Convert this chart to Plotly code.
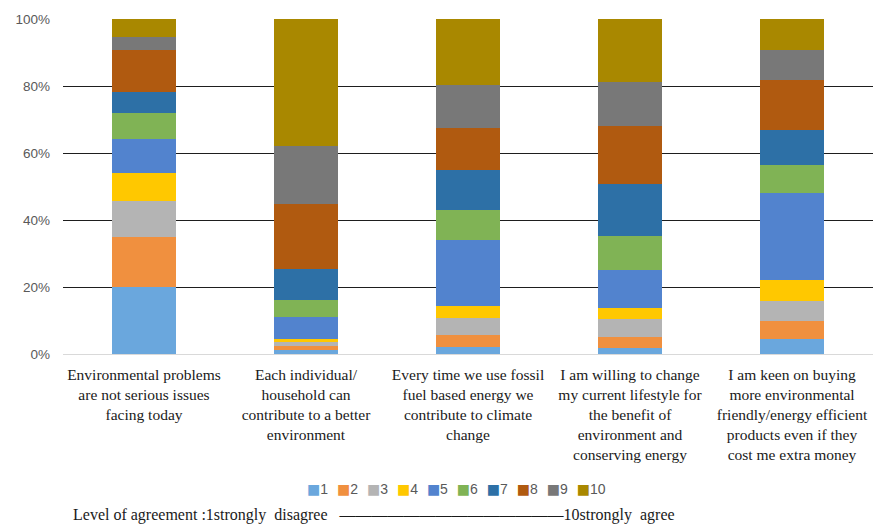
import plotly.graph_objects as go

categories = [
    "Environmental problems<br>are not serious issues<br>facing today",
    "Each individual/<br>household can<br>contribute to a better<br>environment",
    "Every time we use fossil<br>fuel based energy we<br>contribute to climate<br>change",
    "I am willing to change<br>my current lifestyle for<br>the benefit of<br>environment and<br>conserving energy",
    "I am keen on buying<br>more environmental<br>friendly/energy efficient<br>products even if they<br>cost me extra money",
]

levels = ["1", "2", "3", "4", "5", "6", "7", "8", "9", "10"]

# percentage share of each agreement level, per statement (in category order)
s1 = [20.0, 1.3, 2.1, 1.8, 4.5]
s2 = [15.0, 1.0, 3.7, 3.3, 5.3]
s3 = [10.7, 1.4, 4.9, 5.3, 5.9]
s4 = [8.4, 0.7, 3.7, 3.3, 6.5]
s5 = [10.0, 6.6, 19.7, 11.5, 25.9]
s6 = [7.9, 5.0, 9.0, 10.1, 8.4]
s7 = [6.3, 9.4, 11.7, 15.4, 10.3]
s8 = [12.5, 19.5, 12.7, 17.5, 15.1]
s9 = [3.7, 17.3, 12.9, 12.9, 8.9]
s10 = [5.5, 37.8, 19.6, 18.9, 9.2]
series = [s1, s2, s3, s4, s5, s6, s7, s8, s9, s10]

colors = ["#6AA7DD", "#F0903F", "#B4B4B4", "#FFC800", "#5283CE",
          "#80B355", "#2D70A6", "#B05A10", "#787878", "#A98800"]

y_ticks = [0, 20, 40, 60, 80, 100]
y_tick_labels = ["0%", "20%", "40%", "60%", "80%", "100%"]
footer = ("Level of agreement :1strongly&nbsp; disagree&nbsp;&nbsp; " + "\u2014" * 14
          + "10strongly&nbsp; agree")

SERIF = "Liberation Serif, Times New Roman, serif"
SANS = "Liberation Sans, Arial, sans-serif"

fig = go.Figure()
for name, vals, col in zip(levels, series, colors):
    fig.add_trace(go.Bar(x=categories, y=vals, name=name, marker_color=col,
                         marker_line_width=0))

legend_text = "&nbsp;&nbsp;&#8202;".join(
    f"<span style='color:{c};font-family:DejaVu Sans'>\u25A0</span>{n}"
    for n, c in zip(levels, colors)
)

fig.update_layout(
    barmode="stack",
    barnorm="percent",
    bargap=0.6,
    width=873, height=524,
    margin=dict(l=63, r=0, t=19, b=170),
    plot_bgcolor="white", paper_bgcolor="white",
    showlegend=False,
    font=dict(family=SERIF, size=16, color="#1a1a1a"),
)
fig.update_xaxes(
    tickfont=dict(family=SERIF, size=15.5, color="#1a1a1a"),
    showgrid=False, ticks="", showline=False,
    ticklabelstandoff=9,
)
fig.update_yaxes(
    range=[0, 100], tickmode="array", tickvals=y_ticks, ticktext=y_tick_labels,
    tickfont=dict(family=SANS, size=13.5, color="#595959"),
    showgrid=True, gridcolor="#1e1e1e", gridwidth=1,
    zeroline=True, zerolinecolor="#D9D9D9", zerolinewidth=1,
    ticklabelstandoff=12,
)
fig.add_annotation(text=legend_text, xref="paper", yref="paper", x=(456 - 63) / 810,
                   y=-(489.5 - 354) / 335, xanchor="center", yanchor="middle", showarrow=False,
                   font=dict(family=SANS, size=14, color="#595959"))
fig.add_annotation(text=footer, xref="paper", yref="paper", x=(71 - 63) / 810,
                   y=-(515 - 354) / 335, xanchor="left", yanchor="middle", showarrow=False,
                   font=dict(family=SERIF, size=16, color="#1a1a1a"))

fig.write_html("out.html")
